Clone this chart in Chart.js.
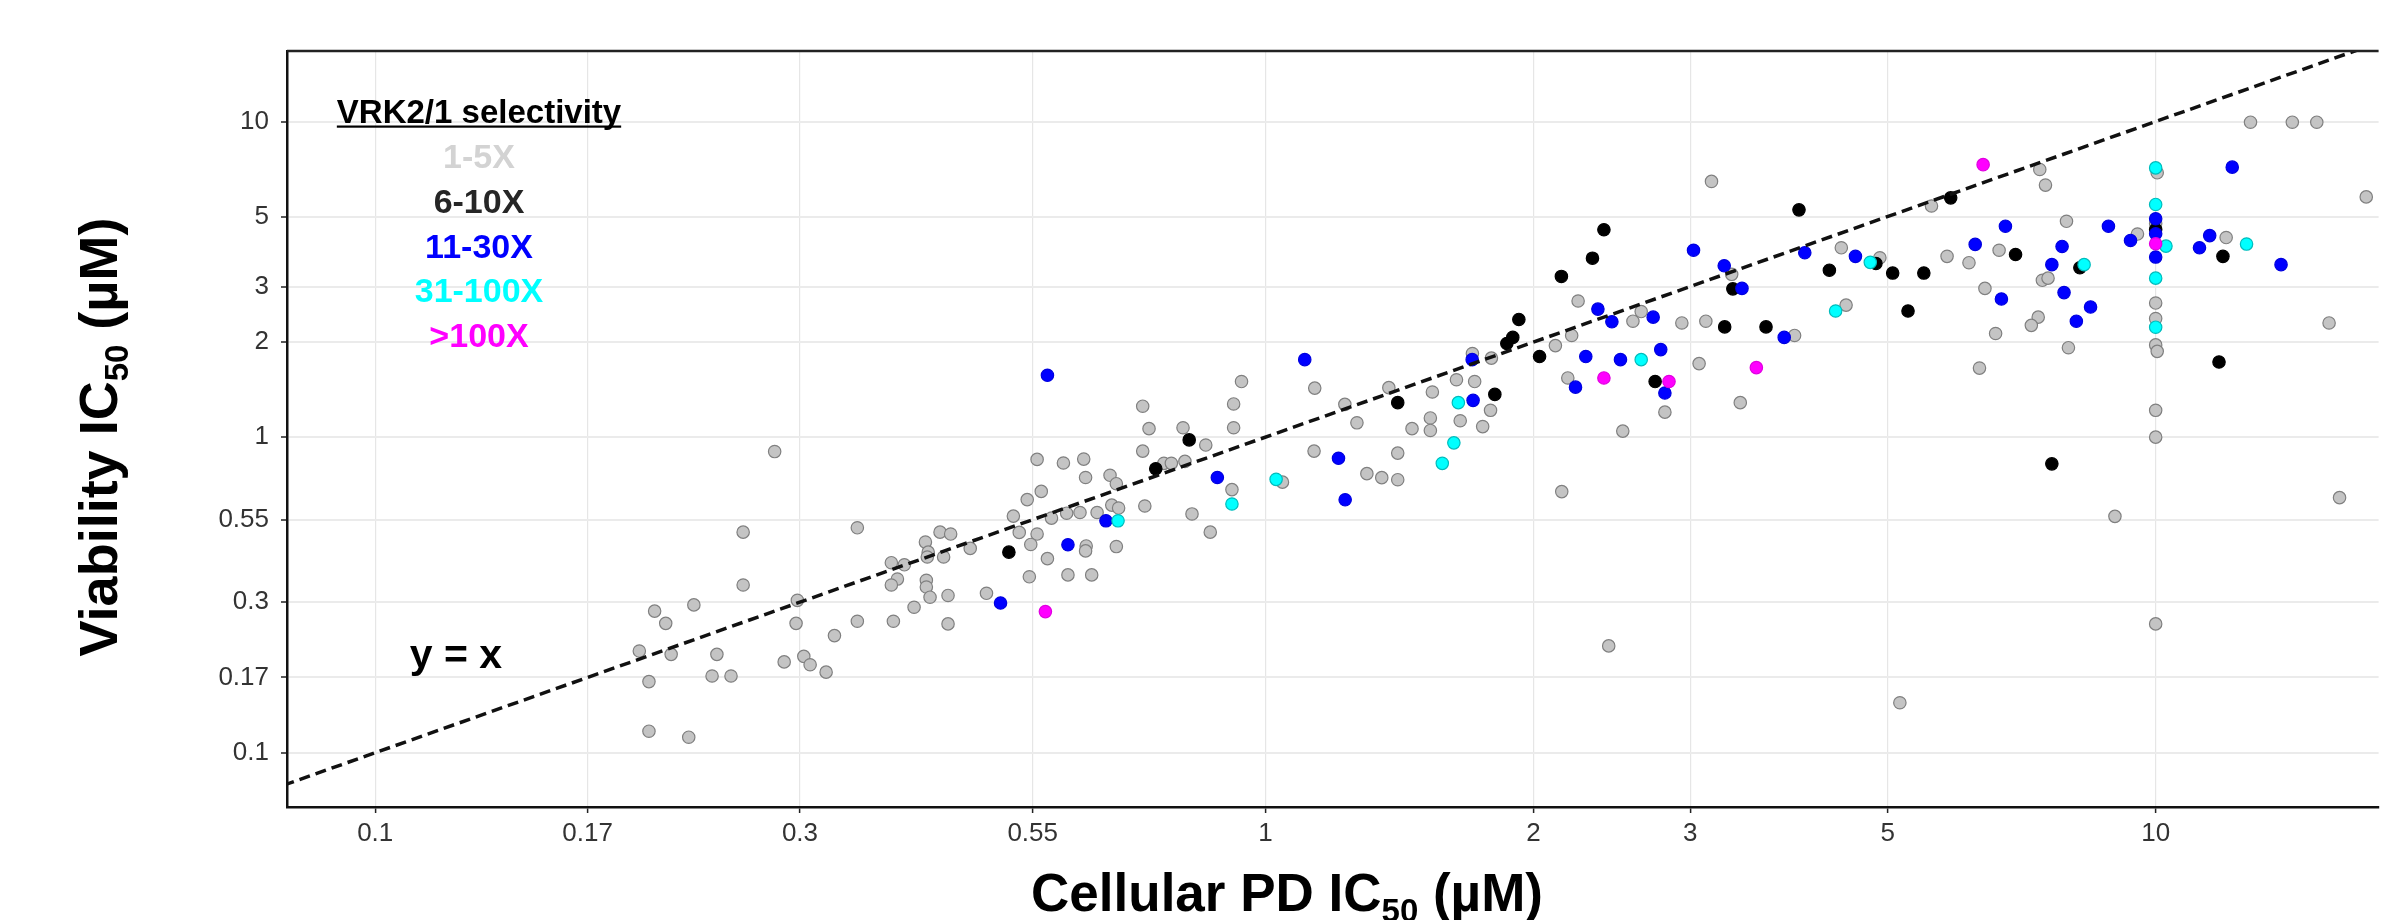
<!DOCTYPE html>
<html>
<head>
<meta charset="utf-8">
<title>Cellular PD IC50 vs Viability IC50</title>
<script src="https://cdn.jsdelivr.net/npm/chart.js@4.4.1/dist/chart.umd.min.js"></script>
<style>
  html, body { margin: 0; padding: 0; background: #fff; overflow: hidden; }
  #wrap { position: relative; width: 2386px; height: 920px; }
</style>
</head>
<body>
<div id="wrap"><canvas id="scatter"></canvas></div>
<script>
// tick positions (geometric mid-steps) and the labels printed under them
var tickValues = [0.1, 0.1732, 0.3, 0.5477, 1, 2, 3, 5, 10];
var tickLabels = ['0.1', '0.17', '0.3', '0.55', '1', '2', '3', '5', '10'];

// visible window of both log axes (uM)
var xRange = [0.0796, 17.8];
var yRange = [0.0673, 16.73];

// dashed reference line y = x
var identityLine = [0.05, 20];

var groupNames = ['1-5X', '6-10X', '11-30X', '31-100X', '>100X'];

// [Cellular PD IC50, Viability IC50] per compound, uM
var grey = [
  [0.281,0.90],[0.259,0.50],[0.259,0.34],[0.228,0.294],[0.206,0.281],[0.212,0.257],[0.198,0.21],
  [0.215,0.205],[0.242,0.205],[0.203,0.168],[0.239,0.175],[0.251,0.175],[0.203,0.117],[0.225,0.112],
  [0.298,0.304],[0.297,0.257],[0.288,0.194],[0.303,0.202],[0.308,0.19],[0.321,0.18],[0.328,0.235],
  [0.348,0.516],[0.554,0.85],[0.593,0.828],[0.625,0.852],[0.628,0.745],[0.56,0.673],[0.54,0.634],
  [0.521,0.562],[0.575,0.554],[0.598,0.574],[0.619,0.577],[0.647,0.577],[0.431,0.50],[0.443,0.493],
  [0.529,0.499],[0.554,0.493],[0.415,0.465],[0.466,0.444],[0.545,0.457],[0.629,0.452],[0.628,0.436],
  [0.418,0.432],[0.417,0.417],[0.435,0.417],[0.38,0.40],[0.393,0.394],[0.386,0.355],[0.38,0.34],
  [0.416,0.352],[0.416,0.335],[0.42,0.311],[0.44,0.315],[0.403,0.289],[0.348,0.261],[0.382,0.261],
  [0.44,0.256],[0.486,0.32],[0.569,0.412],[0.543,0.361],[0.60,0.366],[0.638,0.366],
  [1.136,1.43],[0.94,1.50],[0.921,1.274],[0.921,1.071],[0.728,1.253],[0.74,1.064],[0.728,0.903],
  [0.808,1.071],[0.857,0.944],[0.769,0.826],[0.784,0.826],[0.812,0.838],[0.669,0.757],[0.68,0.712],
  [0.917,0.682],[1.045,0.72],[1.134,0.903],[1.228,1.27],[0.732,0.605],[0.672,0.609],[0.684,0.596],
  [0.827,0.571],[0.867,0.50],[0.68,0.45],
  [2.245,2.70],[2.117,1.95],[2.208,2.10],[2.186,1.54],[1.708,1.84],[1.794,1.78],[1.639,1.52],
  [1.718,1.50],[1.54,1.39],[1.376,1.435],[1.79,1.216],[1.655,1.127],[1.754,1.08],[1.532,1.15],
  [1.461,1.064],[1.532,1.05],[1.267,1.11],[1.408,0.89],[1.30,0.766],[1.351,0.744],[1.408,0.733],
  [2.152,0.672],
  [3.17,6.46],[3.34,3.28],[4.435,3.98],[4.90,3.70],[2.587,2.33],[2.643,2.50],[2.936,2.30],
  [3.124,2.33],[3.93,2.10],[4.49,2.62],[3.07,1.71],[2.81,1.20],[3.415,1.286],[2.52,1.045],
  [7.41,7.05],[7.52,6.29],[5.60,5.40],[10.04,6.88],[10,4.75],[10,2.66],[10,2.375],[10,1.96],
  [10.04,1.87],[10,1.216],[10,1.0],[7.94,4.83],[6.67,3.91],[5.83,3.74],[6.17,3.57],[9.54,4.40],
  [6.43,2.96],[7.46,3.14],[7.57,3.19],[7.38,2.40],[7.25,2.26],[6.61,2.13],[7.98,1.92],[6.34,1.655],
  [12.78,9.95],[14.24,9.95],[15.17,9.95],[17.24,5.77],[12.0,4.29],[15.66,2.30],[9.0,0.561],
  [16.09,0.643],[10,0.256],[5.16,0.144],[2.43,0.218]
];
var black = [
  [0.515,0.432],[0.753,0.794],[0.821,0.98],[1.408,1.286],[1.81,1.366],[1.926,2.36],[1.896,2.07],
  [1.867,1.98],[2.032,1.80],[2.15,3.23],[2.33,3.69],[2.40,4.54],[3.975,5.25],[3.35,2.95],[4.30,3.38],
  [4.85,3.55],[3.28,2.235],[3.65,2.235],[2.74,1.50],[5.885,5.73],[6.96,3.79],[8.22,3.44],[5.065,3.31],
  [5.49,3.31],[5.27,2.51],[7.645,0.823],[10,4.55],[11.9,3.74],[11.78,1.73]
];
var blue = [
  [0.569,1.57],[0.504,0.298],[0.60,0.456],[0.662,0.543],[0.883,0.745],[1.107,1.76],[1.208,0.857],
  [1.229,0.633],[1.707,1.76],[1.711,1.308],[2.29,1.80],[2.23,1.44],[2.363,2.545],[2.45,2.32],
  [2.726,2.40],[3.026,3.91],[3.276,3.49],[3.43,2.96],[4.035,3.84],[4.60,3.74],[3.826,2.07],
  [2.505,1.76],[2.78,1.894],[2.81,1.38],[6.78,4.66],[8.85,4.66],[6.27,4.08],[7.85,4.02],[7.645,3.52],
  [9.37,4.20],[6.71,2.74],[7.89,2.87],[8.45,2.585],[8.145,2.33],[10,4.92],[10,4.41],[10,3.72],
  [12.19,7.17],[11.5,4.35],[11.2,3.98],[13.83,3.52]
];
var cyan = [
  [0.683,0.543],[0.917,0.614],[1.028,0.735],[1.647,1.286],[1.628,0.959],[1.58,0.826],[2.643,1.76],
  [4.78,3.58],[4.37,2.51],[8.31,3.52],[10,7.13],[10,5.46],[10.27,4.03],[10,3.19],[10,2.23],[12.65,4.09]
];
var magenta = [
  [0.566,0.28],[2.40,1.54],[2.84,1.50],[3.56,1.66],[6.40,7.30],[10,4.10]
];

// styles per selectivity group
var fillColors = ['#c4c4c4', '#000000', '#0000ff', '#00ffff', '#ff00ff'];
var edgeColors = ['#808080', '#000000', '#0000e0', '#00bcbc', '#e000e0'];
var legendColors = ['#d3d3d3', '#262626', '#0000ff', '#00ffff', '#ff00ff'];

var fontFam = "'Liberation Sans', Arial, Helvetica, sans-serif";

function toPoints(pairs) {
  return pairs.map(function (p) { return { x: p[0], y: p[1] }; });
}

// text with a "50" subscript, drawn at current transform, centred on x=0
function drawSubscripted(ctx, parts, size) {
  var subSize = Math.round(size * 0.62);
  var widths = parts.map(function (p) {
    ctx.font = 'bold ' + (p[1] ? subSize : size) + 'px ' + fontFam;
    return ctx.measureText(p[0]).width;
  });
  var total = widths.reduce(function (a, b) { return a + b; }, 0);
  var x = -total / 2;
  parts.forEach(function (p, i) {
    ctx.font = 'bold ' + (p[1] ? subSize : size) + 'px ' + fontFam;
    ctx.fillText(p[0], x, p[1] ? size * 0.2 : 0);
    x += widths[i];
  });
}

var decorPlugin = {
  id: 'decor',
  afterDraw: function (chart) {
    var ctx = chart.ctx;
    var area = chart.chartArea;
    ctx.save();

    // top frame line
    ctx.strokeStyle = '#222';
    ctx.lineWidth = 2.5;
    ctx.beginPath();
    ctx.moveTo(area.left, area.top);
    ctx.lineTo(area.right, area.top);
    ctx.stroke();

    ctx.fillStyle = '#000';
    ctx.textBaseline = 'alphabetic';
    ctx.textAlign = 'left';

    // y title
    ctx.save();
    ctx.translate(117, 437);
    ctx.rotate(-Math.PI / 2);
    drawSubscripted(ctx, [['Viability IC', false], ['50', true], [' (\u00b5M)', false]], 54);
    ctx.restore();

    // x title
    ctx.save();
    ctx.translate(1287, 911);
    drawSubscripted(ctx, [['Cellular PD IC', false], ['50', true], [' (\u00b5M)', false]], 53);
    ctx.restore();

    // legend block
    ctx.textAlign = 'center';
    ctx.font = 'bold 33px ' + fontFam;
    var head = 'VRK2/1 selectivity';
    ctx.fillText(head, 479, 123);
    var hw = ctx.measureText(head).width;
    ctx.fillRect(479 - hw / 2, 125.5, hw, 2.2);

    ctx.font = 'bold 34px ' + fontFam;
    chart.data.datasets.forEach(function (ds, i) {
      if (i >= groupNames.length) return;
      ctx.fillStyle = legendColors[i];
      ctx.fillText(ds.label, 479, 168.3 + i * 44.6);
    });

    ctx.fillStyle = '#000';
    ctx.font = 'bold 41px ' + fontFam;
    ctx.fillText('y = x', 456, 668);

    ctx.restore();
  }
};

var groupData = [grey, black, blue, cyan, magenta];
var datasets = groupData.map(function (d, i) {
  return {
    type: 'scatter',
    label: groupNames[i],
    data: toPoints(d),
    backgroundColor: fillColors[i],
    borderColor: edgeColors[i],
    borderWidth: 1.2,
    pointRadius: 6.2,
    pointHoverRadius: 6.2,
    order: 10 - i
  };
});
datasets.push({
  type: 'line',
  label: 'y = x',
  data: identityLine.map(function (v) { return { x: v, y: v }; }),
  borderColor: '#111',
  borderWidth: 3.5,
  borderDash: [11, 6],
  pointRadius: 0,
  fill: false,
  order: 0
});

var tickFont = { family: fontFam, size: 26 };

new Chart(document.getElementById('scatter'), {
  data: { datasets: datasets },
  options: {
    responsive: true,
    maintainAspectRatio: false,
    animation: false,
    devicePixelRatio: 1,
    layout: { padding: { top: 51, left: 0, right: 0, bottom: 0 } },
    plugins: {
      legend: { display: false },
      tooltip: { enabled: false },
      title: { display: false }
    },
    scales: {
      x: {
        type: 'logarithmic',
        position: 'bottom',
        min: xRange[0],
        max: xRange[1],
        afterBuildTicks: function (axis) {
          axis.ticks = tickValues.map(function (v) { return { value: v }; });
        },
        afterFit: function (axis) { axis.height = 113; },
        ticks: {
          callback: function (v, i) { return tickLabels[i]; },
          color: '#333',
          font: tickFont,
          padding: 5,
          autoSkip: false,
          maxRotation: 0
        },
        grid: { color: '#e6e6e6', lineWidth: 1.2, tickColor: '#222', tickLength: 6, tickWidth: 1.5 },
        border: { color: '#111', width: 2.5 }
      },
      y: {
        type: 'logarithmic',
        position: 'left',
        min: yRange[0],
        max: yRange[1],
        afterBuildTicks: function (axis) {
          axis.ticks = tickValues.map(function (v) { return { value: v }; });
        },
        afterFit: function (axis) { axis.width = 287; },
        ticks: {
          callback: function (v, i) { return tickLabels[i]; },
          color: '#333',
          font: tickFont,
          padding: 12,
          autoSkip: false
        },
        grid: { color: '#ebebeb', lineWidth: 2, tickColor: '#222', tickLength: 6, tickWidth: 1.5 },
        border: { color: '#111', width: 2.5 }
      }
    }
  },
  plugins: [decorPlugin]
});
</script>
</body>
</html>
